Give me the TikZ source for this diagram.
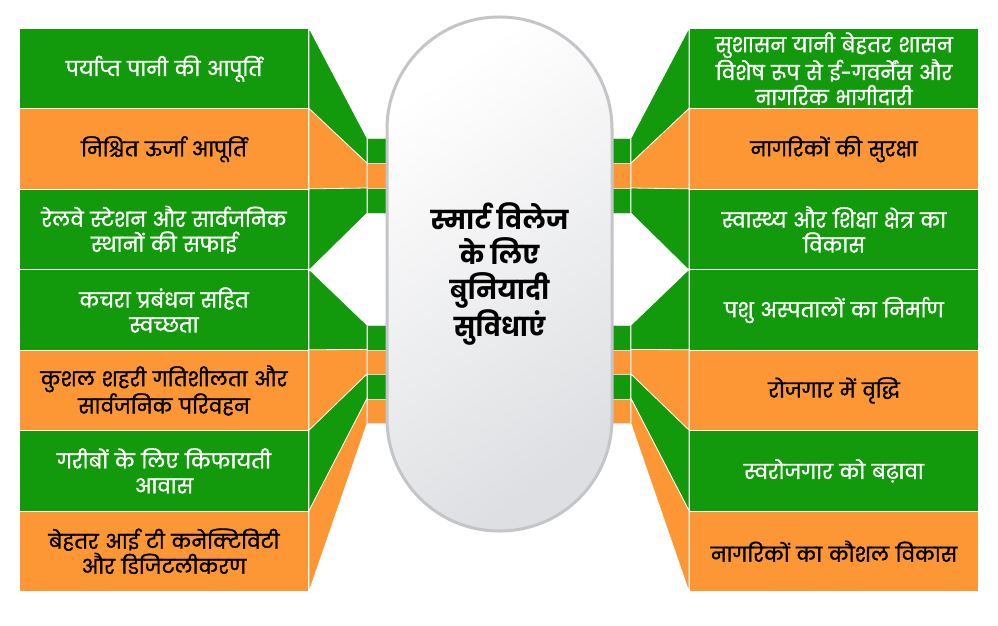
\documentclass[tikz,border=0pt]{standalone}
\usepackage{fontspec}
\newfontfamily\dev[Script=Devanagari]{Poppins}
\newfontfamily\devm[Script=Devanagari, FakeBold=1.8]{Poppins}
\definecolor{vgreen}{HTML}{139A0C}
\definecolor{vorange}{HTML}{FD9736}
\definecolor{pillborder}{HTML}{C4C5C9}
\definecolor{pillshade}{HTML}{DEDFE2}
\tikzset{
  box/.style={draw=white, line width=1pt, minimum width=289pt, minimum height=80.43pt,
    inner sep=0pt, align=center, text width=286pt,
    font=\devm\fontsize{20}{25}\selectfont},
  gbox/.style={box, fill=vgreen, text=white},
  obox/.style={box, fill=vorange, text=black},
  tab/.style={draw=white!85!black, line width=0.8pt, minimum width=19pt, minimum height=24.5pt, inner sep=0pt},
  gtab/.style={tab, fill=vgreen},
  otab/.style={tab, fill=vorange},
  gconn/.style={fill=vgreen, draw=white, line width=0.8pt},
  oconn/.style={fill=vorange, draw=white, line width=0.8pt},
}
\begin{document}
\begin{tikzpicture}[x=1pt,y=-1pt]
\useasboundingbox[fill=white] (0,0) rectangle (998,626);
% left boxes
\node[gbox, anchor=north west] (L1) at (19,28) {पर्याप्त पानी की आपूर्ति};
\node[obox, anchor=north west] (L2) at (19,108.43) {निश्चित ऊर्जा आपूर्ति};
\node[gbox, anchor=north west] (L3) at (19,188.86) {रेलवे स्टेशन और सार्वजनिक\\स्थानों की सफाई};
\node[gbox, anchor=north west] (L4) at (19,269.29) {कचरा प्रबंधन सहित\\स्वच्छता};
\node[obox, anchor=north west] (L5) at (19,349.71) {कुशल शहरी गतिशीलता और\\सार्वजनिक परिवहन};
\node[gbox, anchor=north west] (L6) at (19,430.14) {गरीबों के लिए किफायती\\आवास};
\node[obox, anchor=north west] (L7) at (19,510.57) {बेहतर आई टी कनेक्टिविटी\\और डिजिटलीकरण};
% right boxes
\node[gbox, anchor=north east] (R1) at (979,28) {सुशासन यानी बेहतर शासन\\विशेष रूप से ई-गवर्नेंस और\\नागरिक भागीदारी};
\node[obox, anchor=north east] (R2) at (979,108.43) {नागरिकों की सुरक्षा};
\node[gbox, anchor=north east] (R3) at (979,188.86) {स्वास्थ्य और शिक्षा क्षेत्र का\\विकास};
\node[gbox, anchor=north east] (R4) at (979,269.29) {पशु अस्पतालों का निर्माण};
\node[obox, anchor=north east] (R5) at (979,349.71) {रोजगार में वृद्धि};
\node[gbox, anchor=north east] (R6) at (979,430.14) {स्वरोजगार को बढ़ावा};
\node[obox, anchor=north east] (R7) at (979,510.57) {नागरिकों का कौशल विकास};
% left tabs
\node[gtab, anchor=north west] (sL1) at (367,138) {};
\node[otab, anchor=north west] (sL2) at (367,163) {};
\node[gtab, anchor=north west] (sL3) at (367,188) {};
\node[gtab, anchor=north west] (sL4) at (367,325) {};
\node[otab, anchor=north west] (sL5) at (367,349.5) {};
\node[gtab, anchor=north west] (sL6) at (367,374) {};
\node[otab, anchor=north west] (sL7) at (367,398.5) {};
% right tabs
\node[gtab, anchor=north east] (sR1) at (631,138) {};
\node[otab, anchor=north east] (sR2) at (631,163) {};
\node[gtab, anchor=north east] (sR3) at (631,188) {};
\node[gtab, anchor=north east] (sR4) at (631,325) {};
\node[otab, anchor=north east] (sR5) at (631,349.5) {};
\node[gtab, anchor=north east] (sR6) at (631,374) {};
\node[otab, anchor=north east] (sR7) at (631,398.5) {};
% connectors
\foreach \i/\s in {1/gconn,2/oconn,3/gconn,4/gconn,5/oconn,6/gconn,7/oconn}{
  \path[\s] (L\i.north east) -- (sL\i.north west) -- (sL\i.south west) -- (L\i.south east) -- cycle;
  \path[\s] (R\i.north west) -- (sR\i.north east) -- (sR\i.south east) -- (R\i.south west) -- cycle;
}
% central pill
\node[draw=pillborder, line width=3pt, rounded corners=112pt,
  minimum width=225pt, minimum height=514pt, inner sep=0pt,
  top color=white, bottom color=pillshade, shading angle=35,
  align=center, font=\dev\bfseries\fontsize{26}{35}\selectfont] (pill) at (499.5,274)
  {स्मार्ट विलेज\\के लिए\\बुनियादी\\सुविधाएं};
\end{tikzpicture}
\end{document}
